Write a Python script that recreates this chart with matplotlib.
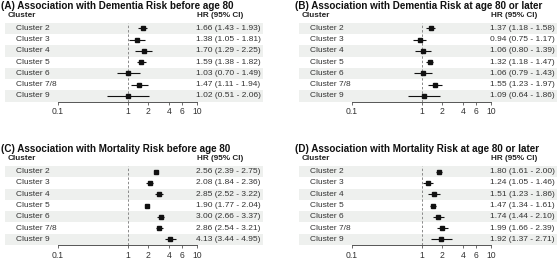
import matplotlib
matplotlib.use("Agg")
import matplotlib.pyplot as plt

plt.rcParams['font.family'] = ['Liberation Sans', 'DejaVu Sans']

clusters = ['Cluster 2', 'Cluster 3', 'Cluster 4', 'Cluster 5', 'Cluster 6', 'Cluster 7/8', 'Cluster 9']
titles = ['(A) Association with Dementia Risk before age 80',
          '(B) Association with Dementia Risk at age 80 or later',
          '(C) Association with Mortality Risk before age 80',
          '(D) Association with Mortality Risk at age 80 or later']

hr_a = [1.66, 1.38, 1.70, 1.59, 1.03, 1.47, 1.02]
lo_a = [1.43, 1.05, 1.29, 1.38, 0.70, 1.11, 0.51]
hi_a = [1.93, 1.81, 2.25, 1.82, 1.49, 1.94, 2.06]

hr_b = [1.37, 0.94, 1.06, 1.32, 1.06, 1.55, 1.09]
lo_b = [1.18, 0.75, 0.80, 1.18, 0.79, 1.23, 0.64]
hi_b = [1.58, 1.17, 1.39, 1.47, 1.43, 1.97, 1.86]

hr_c = [2.56, 2.08, 2.85, 1.90, 3.00, 2.86, 4.13]
lo_c = [2.39, 1.84, 2.52, 1.77, 2.66, 2.54, 3.44]
hi_c = [2.75, 2.36, 3.22, 2.04, 3.37, 3.21, 4.95]

hr_d = [1.80, 1.24, 1.51, 1.47, 1.74, 1.99, 1.92]
lo_d = [1.61, 1.05, 1.23, 1.34, 1.44, 1.66, 1.37]
hi_d = [2.00, 1.46, 1.86, 1.61, 2.10, 2.39, 2.71]

ticks = [0.1, 1, 2, 4, 6, 10]
tick_labels = ['0.1', '1', '2', '4', '6', '10']

panels = [(hr_a, lo_a, hi_a), (hr_b, lo_b, hi_b), (hr_c, lo_c, hi_c), (hr_d, lo_d, hi_d)]
offsets = [(0, 0), (294, 0), (0, 143.4), (294, 143.4)]

W, H = 560, 259
fig = plt.figure(figsize=(W / 100, H / 100), dpi=100)


def fx(x):
    return x / W


def fy(y):
    return 1 - y / H


# row geometry in pixels, relative to each panel
row0, step = 28.3, 11.28
band_top = row0 - step / 2
band_bot = row0 + step * 6.5

for k, (hr, lo, hi) in enumerate(panels):
    ox, oy = offsets[k]
    ax = fig.add_axes([fx(5 + ox), fy(band_bot + oy), (263 - 5) / W, (band_bot - band_top) / H])
    ax.set_xscale('log')
    ax.set_xlim(10 ** -1.7626, 10 ** 1.9496)
    ax.set_ylim(len(clusters) - 0.5, -0.5)
    for i in range(len(clusters)):
        if i % 2 == 0:
            ax.axhspan(i - 0.5, i + 0.5, color='#eef0ee', lw=0, zorder=0)
    ax.axvline(1, color='#8a8a8a', lw=0.7, ls=(0, (2.5, 2)), zorder=1)
    ys = list(range(len(clusters)))
    ax.hlines(ys, lo, hi, color='#111111', lw=0.8, zorder=2)
    ax.plot(hr, ys, 's', color='#111111', ms=2.2, zorder=3)
    for s in ['top', 'left', 'right']:
        ax.spines[s].set_visible(False)
    ax.spines['bottom'].set_bounds(0.1, 10)
    ax.spines['bottom'].set_color('#555555')
    ax.spines['bottom'].set_linewidth(0.7)
    ax.set_yticks([])
    ax.set_xticks(ticks)
    ax.set_xticklabels(tick_labels)
    ax.minorticks_off()
    ax.tick_params(axis='x', length=2.5, width=0.6, color='#555555', pad=1.5,
                   labelsize=6.2, labelcolor='#333333')
    ax.patch.set_alpha(0)

    fig.text(fx(1 + ox), fy(6 + oy), titles[k], fontsize=7.1, fontweight='bold',
             va='center', ha='left', color='#111111')
    fig.text(fx(7.3 + ox), fy(15.5 + oy), 'Cluster', fontsize=5.9, fontweight='bold',
             va='center', ha='left', color='#222222')
    fig.text(fx(197 + ox), fy(15.5 + oy), 'HR (95% CI)', fontsize=5.9, fontweight='bold',
             va='center', ha='left', color='#222222')
    for i, name in enumerate(clusters):
        y = row0 + step * i + oy
        fig.text(fx(16 + ox), fy(y), name, fontsize=6.0, va='center', ha='left', color='#333333')
        fig.text(fx(196 + ox), fy(y), f"{hr[i]:.2f} ({lo[i]:.2f} - {hi[i]:.2f})",
                 fontsize=6.0, va='center', ha='left', color='#333333')

fig.savefig('out.png', dpi=100)
